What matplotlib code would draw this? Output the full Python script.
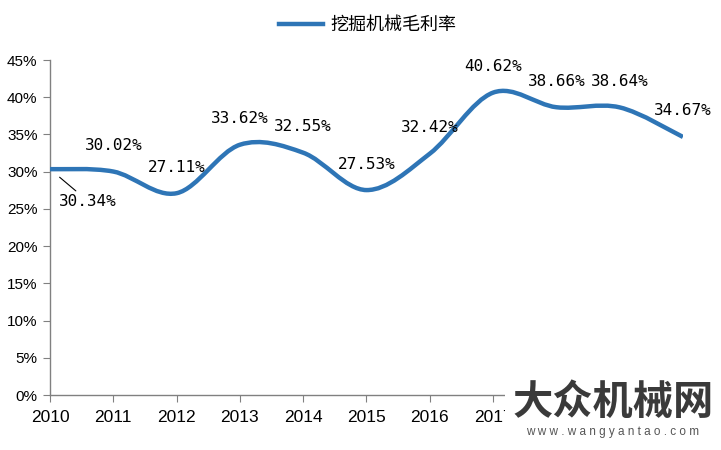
import numpy as np
import matplotlib.pyplot as plt
from matplotlib.path import Path
from matplotlib.patches import PathPatch
from matplotlib.ticker import FuncFormatter

years = [2010, 2011, 2012, 2013, 2014, 2015, 2016, 2017, 2018, 2019, 2020]
margin = [30.34, 30.02, 27.11, 33.62, 32.55, 27.53, 32.42, 40.62, 38.66, 38.64, 34.67]
labels = ['30.34%', '30.02%', '27.11%', '33.62%', '32.55%', '27.53%',
          '32.42%', '40.62%', '38.66%', '38.64%', '34.67%']
# 2018-2020 year labels sit under the watermark in the source picture
year_labels = ['2010', '2011', '2012', '2013', '2014', '2015', '2016', '2017', '', '', '']
series_name = '挖掘机械毛利率'
blue = '#2E75B6'

plt.rcParams['font.family'] = ['Liberation Sans', 'DejaVu Sans']

fig = plt.figure(figsize=(7.21, 4.5), dpi=100)
ax = fig.add_axes([0.0694, 0.1222, 0.8778, 0.7444])

# smooth line like Excel: cubic bezier segments through the points
x = np.array(years, dtype=float)
y = np.array(margin)
verts = [(x[0], y[0])]
codes = [Path.MOVETO]
n = len(x)
for i in range(n - 1):
    p0 = i - 1 if i > 0 else 0
    p3 = i + 2 if i + 2 < n else n - 1
    c1 = (x[i] + (x[i + 1] - x[p0]) / 6, y[i] + (y[i + 1] - y[p0]) / 6)
    c2 = (x[i + 1] - (x[p3] - x[i]) / 6, y[i + 1] - (y[p3] - y[i]) / 6)
    verts += [c1, c2, (x[i + 1], y[i + 1])]
    codes += [Path.CURVE4] * 3
ax.add_patch(PathPatch(Path(verts, codes), facecolor='none', edgecolor=blue,
                       lw=3.2, capstyle='butt', zorder=3))
ax.plot([], [], color=blue, lw=3.2, label=series_name)

# data labels
for i, (xx, yy, lab) in enumerate(zip(years, margin, labels)):
    if i == 0:
        ax.annotate(lab, (xx, yy), xytext=(38, -32), textcoords='offset pixels',
                    ha='center', va='center', fontsize=11.5, family='DejaVu Sans Mono',
                    arrowprops=dict(arrowstyle='-', color='black', lw=0.8,
                                    shrinkA=0, shrinkB=9))
    else:
        ax.annotate(lab, (xx, yy), xytext=(0, 26), textcoords='offset pixels',
                    ha='center', va='center', fontsize=11.5, family='DejaVu Sans Mono')

ax.set_xlim(2010, 2020)
ax.set_ylim(0, 45)
ax.set_xticks(years)
ax.set_xticklabels(year_labels)
ax.set_yticks(np.arange(0, 46, 5))
ax.yaxis.set_major_formatter(FuncFormatter(lambda v, p: f'{v:.0f}%'))
ax.tick_params(axis='x', labelsize=12.5, length=5, color='#808080', pad=6)
ax.tick_params(axis='y', labelsize=11, length=5, color='#808080', pad=4)
for s in ['top', 'right']:
    ax.spines[s].set_visible(False)
for s in ['left', 'bottom']:
    ax.spines[s].set_color('#808080')
    ax.spines[s].set_linewidth(1.0)

leg = fig.legend(loc='upper center', bbox_to_anchor=(0.51, 1.0), frameon=False,
                 prop={'family': ['Noto Sans CJK SC', 'DejaVu Sans'], 'size': 13},
                 handlelength=2.4, handletextpad=0.4)

# watermark
fig.patches.append(plt.Rectangle((0.700, 0.0), 0.30, 0.178, transform=fig.transFigure,
                                 facecolor='white', edgecolor='none', zorder=5))
fig.text(0.850, 0.105, '大众机械网', ha='center', va='center', fontsize=29,
         fontweight='bold', color='#3a3a3a', family=['Noto Sans CJK SC'], zorder=6)
fig.text(0.850, 0.040, 'w w w . w a n g y a n t a o . c o m', ha='center', va='center',
         fontsize=8.5, color='#555555', zorder=6)

fig.savefig('out.png', dpi=100, facecolor='white')
